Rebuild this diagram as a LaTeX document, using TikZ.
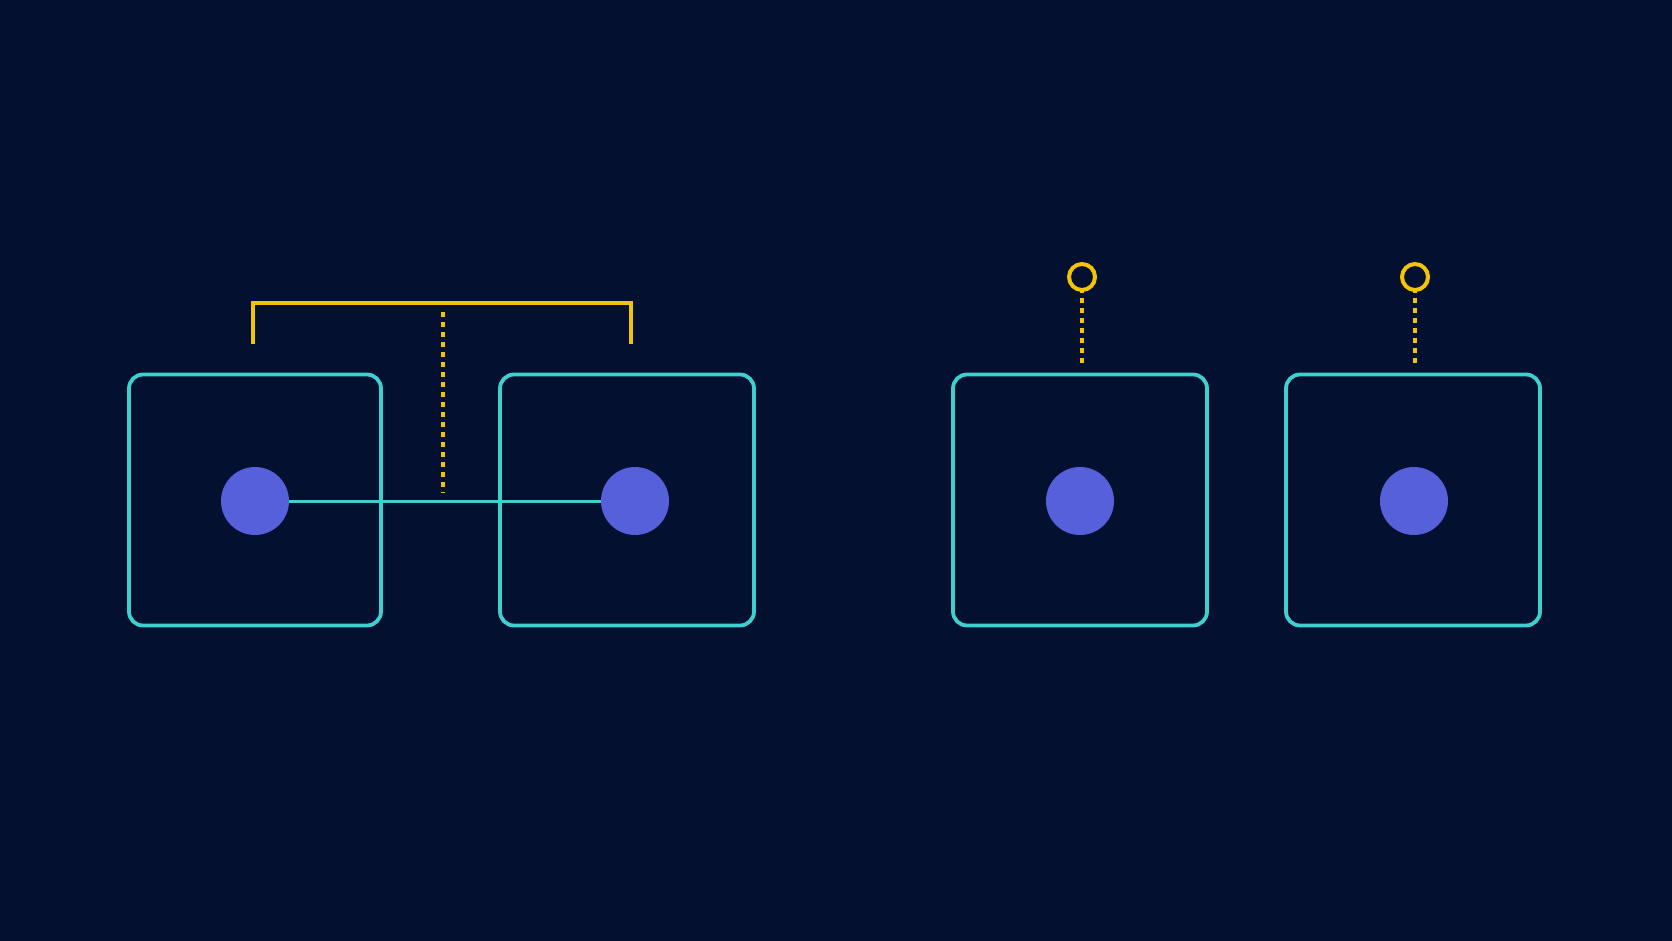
\documentclass[tikz,border=0pt]{standalone}
\definecolor{bgc}{HTML}{03102F}
\definecolor{cyanc}{HTML}{3ECFCF}
\definecolor{dotc}{HTML}{5560DA}
\definecolor{yelc}{HTML}{F5C400}
\begin{document}
\begin{tikzpicture}[x=1pt,y=-1pt,
  cell/.style={draw=cyanc,line width=3.8pt,rounded corners=14pt,minimum width=254pt,minimum height=251pt,inner sep=0pt},
  core/.style={circle,fill=dotc,minimum size=68pt,inner sep=0pt},
  ring/.style={circle,draw=yelc,line width=4pt,minimum size=26pt,inner sep=0pt},
  link/.style={draw=cyanc,line width=3pt},
  brack/.style={draw=yelc,line width=3.2pt},
  dots/.style={draw=yelc,line width=3.2pt,dash pattern=on 4.5pt off 5.5pt}]
\fill[bgc] (0,0) rectangle (1672,941);
\useasboundingbox (0,0) rectangle (1672,941);
\node[cell,minimum width=252pt] (b1) at (255,500) {};
\node[cell] (b2) at (627,500) {};
\node[cell] (b3) at (1080,500) {};
\node[cell] (b4) at (1413,500) {};
\node[core] (c1) at (255,501) {};
\node[core] (c2) at (635,501) {};
\node[core] (c3) at (1080,501) {};
\node[core] (c4) at (1414,501) {};
\draw[link] (c1.east) -- (c2.west);
\coordinate (bl) at (253,344);
\coordinate (br) at (631,344);
\coordinate (bt) at (443,312);
\coordinate (bb) at (443,493);
\draw[brack] (bl) -- (253,303) -- (631,303) -- (br);
\draw[dots] (bt) -- (bb);
\node[ring] (r1) at (1082,277) {};
\node[ring] (r2) at (1415,277) {};
\draw[dots] ([yshift=4pt]r1.south) -- (1082,366);
\draw[dots] ([yshift=4pt]r2.south) -- (1415,366);
\end{tikzpicture}
\end{document}
